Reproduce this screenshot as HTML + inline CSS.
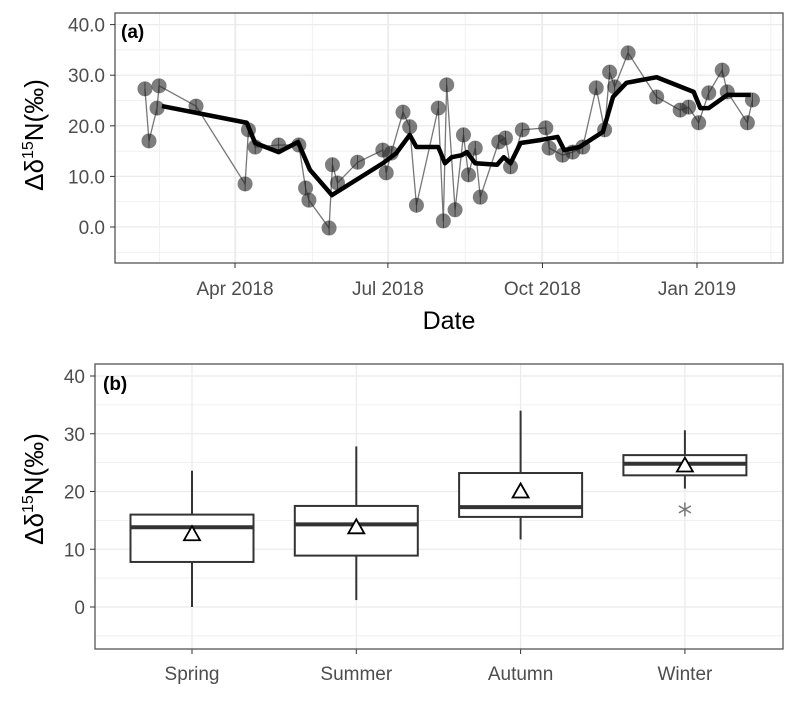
<!DOCTYPE html>
<html><head><meta charset="utf-8"><style>
body{margin:0;background:#fff;width:797px;height:700px;overflow:hidden}
svg{font-family:"Liberation Sans",Arial,sans-serif}
</style></head><body>
<svg id="c" width="797" height="700"></svg>
<script>
// Panel (a) data: day offset from 2018-01-01, values
const aDays=[36.4,38.8,43.6,44.8,66.8,96,98,102,116,128,132,134,146,148,151,163,178,180,183,190,194,198,211,214,216,221,226,229,233,236,247,251,254,261,275,277,285,291,297,305,310,313,316,324,341,355,360,366,372,380,383,395,398];
const aVals=[27.3,17.0,23.5,27.9,23.9,8.5,19.2,15.8,16.2,16.2,7.7,5.3,-0.2,12.3,8.7,12.8,15.2,10.7,14.6,22.7,19.8,4.3,23.5,1.2,28.1,3.4,18.2,10.3,15.6,5.9,16.8,17.6,11.9,19.2,19.6,15.6,14.2,14.8,15.8,27.5,19.2,30.6,27.7,34.4,25.7,23.1,23.7,20.6,26.5,31.0,26.7,20.6,25.1];
const sDays=[46.5,97,102,116,127.5,134.6,147.7,178,186,194,198,211,215,219,225,228,233,246,250,254,260,272,282,286,295,309,315,323,341,363,367,372,383,397];
const sVals=[23.9,20.6,16.6,14.8,16.8,11.3,6.3,12.6,14.6,18.2,15.8,15.8,12.6,13.8,14.2,14.8,12.6,12.3,13.8,12.6,16.6,17.2,17.8,15.2,15.8,18.8,25.7,28.5,29.6,26.7,23.5,23.5,26.1,26.1];
const aYTicks=[0,10,20,30,40];
const aYLabels=["0.0","10.0","20.0","30.0","40.0"];
const aXTicks=[90,181,273,365];
const aXLabels=["Apr 2018","Jul 2018","Oct 2018","Jan 2019"];
// Panel (b) data
const seasons=["Spring","Summer","Autumn","Winter"];
const wLo=[0,1.2,11.7,20.5];
const q1=[7.8,8.9,15.6,22.8];
const med=[13.8,14.3,17.3,24.8];
const q3=[16,17.5,23.2,26.3];
const wHi=[23.6,27.8,34,30.6];
const means=[12.6,13.8,20,24.5];
const outlierSeason=[3];
const outlierVal=[16.9];
const bYTicks=[0,10,20,30,40];

const NS="http://www.w3.org/2000/svg";
const svg=document.getElementById('c');
function mk(t,a,p){const e=document.createElementNS(NS,t);for(const k in a)e.setAttribute(k,a[k]);(p||svg).appendChild(e);return e;}
const ax=d=>235+(d-90)*1.68;
const ay=v=>227-v*5.06;
const bx=i=>192+i*164.3;
const by=v=>607-v*5.775;

// ---- Panel A ----
const A=mk('g',{});
for(let v=-5;v<=45;v+=5){const y=ay(v);if(y<13||y>263)continue;const l=mk('line',{x1:115,x2:783,y1:y,y2:y,stroke:'#ebebeb','stroke-width':v%10===0?1.3:0.7},A);}
for(let d=45;d<=410;d+=45.5){const x=ax(d);if(x<115||x>783)continue;const l=mk('line',{x1:x,x2:x,y1:13,y2:263,stroke:'#ebebeb','stroke-width':0.7},A);}
aXTicks.forEach(d=>{const l=mk('line',{x1:ax(d),x2:ax(d),y1:13,y2:263,stroke:'#ebebeb','stroke-width':1.3},A);});
let pts=aDays.map((d,i)=>ax(d)+','+ay(aVals[i])).join(' ');
const pl=mk('polyline',{points:pts,fill:'none',stroke:'#777','stroke-width':1.3},A);

aDays.forEach((d,i)=>{const c=mk('circle',{cx:ax(d),cy:ay(aVals[i]),r:7.5,fill:'rgba(40,40,40,0.6)'},A);
mk('line',{x1:ax(d),x2:ax(d),y1:ay(aVals[i])-7,y2:ay(aVals[i])+7,stroke:'#333','stroke-width':0.8},A);});
const sl=mk('polyline',{points:sDays.map((d,i)=>ax(d)+','+ay(sVals[i])).join(' '),fill:'none',stroke:'#000','stroke-width':4.5,'stroke-linejoin':'round'},A);

const fa=mk('rect',{x:115,y:13,width:668,height:250,fill:'none',stroke:'#555','stroke-width':1.3},A);
aYTicks.forEach((v,i)=>{mk('line',{x1:110,x2:115,y1:ay(v),y2:ay(v),stroke:'#333'},A);const t=mk('text',{x:105,y:ay(v)+7,'text-anchor':'end','font-size':19,fill:'#4d4d4d'},A);t.textContent=aYLabels[i];});
aXTicks.forEach((d,i)=>{mk('line',{x1:ax(d),x2:ax(d),y1:263,y2:268,stroke:'#333'},A);const t=mk('text',{x:ax(d),y:295,'text-anchor':'middle','font-size':19,fill:'#4d4d4d'},A);t.textContent=aXLabels[i];});
let t=mk('text',{x:121,y:38,'font-size':19,'font-weight':'bold',fill:'#000'},A);t.textContent='(a)';
t=mk('text',{x:449,y:329,'text-anchor':'middle','font-size':25,fill:'#000'},A);t.textContent='Date';
t=mk('text',{transform:'translate(43,135) rotate(-90)','text-anchor':'middle','font-size':26,fill:'#000'},A);t.innerHTML='Δδ<tspan font-size="16" dy="-10">15</tspan><tspan dy="10">N(‰)</tspan>';

// ---- Panel B ----
const B=mk('g',{});
for(let v=-5;v<=45;v+=5){const y=by(v);if(y<364||y>649)continue;const l=mk('line',{x1:95,x2:783,y1:y,y2:y,stroke:'#ebebeb','stroke-width':v%10===0?1.3:0.7},B);}
seasons.forEach((s,i)=>{const l=mk('line',{x1:bx(i),x2:bx(i),y1:364,y2:649,stroke:'#ebebeb','stroke-width':1.3},B);});
seasons.forEach((s,i)=>{const x=bx(i),g=mk('g',{},B);
mk('line',{x1:x,x2:x,y1:by(wHi[i]),y2:by(q3[i]),stroke:'#333','stroke-width':2},g);
mk('line',{x1:x,x2:x,y1:by(q1[i]),y2:by(wLo[i]),stroke:'#333','stroke-width':2},g);
mk('rect',{x:x-61.5,y:by(q3[i]),width:123,height:by(q1[i])-by(q3[i]),fill:'#fff',stroke:'#333','stroke-width':2},g);
mk('line',{x1:x-61.5,x2:x+61.5,y1:by(med[i]),y2:by(med[i]),stroke:'#333','stroke-width':4},g);
const my=by(means[i]);const m=mk('polygon',{points:`${x-8},${my+6} ${x+8},${my+6} ${x},${my-8}`,fill:'#fff',stroke:'#000','stroke-width':1.8},g);
mk('line',{x1:x,x2:x,y1:649,y2:654,stroke:'#333'},B);
const tt=mk('text',{x:x,y:680,'text-anchor':'middle','font-size':19,fill:'#4d4d4d'},B);tt.textContent=s;});
outlierSeason.forEach((si,k)=>{const cx=bx(si),cy=by(outlierVal[k]);const o=mk('g',{stroke:'#777','stroke-width':1.5},B);
mk('line',{x1:cx,x2:cx,y1:cy-7,y2:cy+7},o);mk('line',{x1:cx-6,x2:cx+6,y1:cy-3.5,y2:cy+3.5},o);mk('line',{x1:cx-6,x2:cx+6,y1:cy+3.5,y2:cy-3.5},o);});
const fb=mk('rect',{x:95,y:364,width:688,height:285,fill:'none',stroke:'#555','stroke-width':1.3},B);
bYTicks.forEach(v=>{mk('line',{x1:90,x2:95,y1:by(v),y2:by(v),stroke:'#333'},B);const tt=mk('text',{x:85,y:by(v)+7,'text-anchor':'end','font-size':19,fill:'#4d4d4d'},B);tt.textContent=String(v);});
t=mk('text',{x:103,y:390,'font-size':19,'font-weight':'bold',fill:'#000'},B);t.textContent='(b)';
t=mk('text',{transform:'translate(43,489) rotate(-90)','text-anchor':'middle','font-size':26,fill:'#000'},B);t.innerHTML='Δδ<tspan font-size="16" dy="-10">15</tspan><tspan dy="10">N(‰)</tspan>';
</script>
</body></html>
